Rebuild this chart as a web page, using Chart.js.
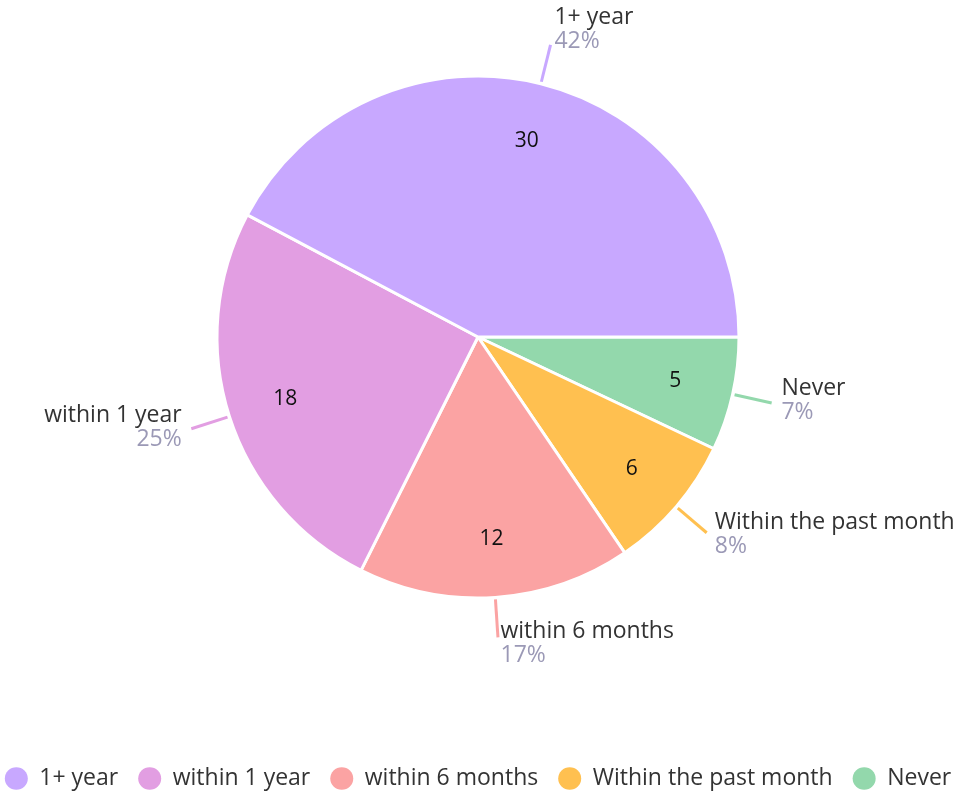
<!DOCTYPE html>
<html>
<head>
<meta charset="utf-8">
<script src="https://cdn.jsdelivr.net/npm/chart.js@4/dist/chart.umd.min.js"></script>
<style>
    html, body { margin: 0; padding: 0; background: #fff; overflow: hidden; }
    .chart-container { position: relative; width: 953px; height: 796px; overflow: hidden; }
    /* canvas un peu plus large pour que la légende tienne sur une ligne */
    #pieChart { position: absolute; left: -30px; top: 0; }
</style>
</head>
<body>
<div class="chart-container"><canvas id="pieChart" width="1013" height="796"></canvas></div>
<script>
// Données (ordre de la légende)
const categories = ['1+ year', 'within 1 year', 'within 6 months', 'Within the past month', 'Never'];
const counts = [30, 18, 12, 6, 5];

const sliceColors = ['#c8a8ff', '#e29ee2', '#fba3a3', '#ffc050', '#93d8ac'];
const fontFamily = '"Open Sans", Lato, sans-serif';

// Le camembert tourne dans le sens antihoraire à partir de 3h,
// donc on inverse l'ordre pour Chart.js (sens horaire)
const order = categories.map((_, i) => categories.length - 1 - i);
const total = counts.reduce((a, b) => a + b, 0);

const sliceLabels = {
    id: 'sliceLabels',
    afterDatasetsDraw(chart) {
        const ctx = chart.ctx;
        const meta = chart.getDatasetMeta(0);
        const ds = chart.data.datasets[0];
        ctx.save();
        meta.data.forEach((arc, i) => {
            const {x, y, startAngle, endAngle, outerRadius} = arc.getProps(['x', 'y', 'startAngle', 'endAngle', 'outerRadius'], true);
            const mid = (startAngle + endAngle) / 2;
            const cos = Math.cos(mid);
            const sin = Math.sin(mid);
            const value = ds.data[i];

            // valeur à l'intérieur
            ctx.font = '21px ' + fontFamily;
            ctx.fillStyle = '#111';
            ctx.textAlign = 'center';
            ctx.textBaseline = 'middle';
            const rIn = outerRadius * 0.775;
            ctx.fillText(String(value), x + cos * rIn, y + sin * rIn);

            // trait de rappel
            const r1 = outerRadius + 2;
            const r2 = outerRadius + 40;
            const ex = x + cos * r2;
            const ey = y + sin * r2;
            ctx.strokeStyle = ds.backgroundColor[i];
            ctx.lineWidth = 3;
            ctx.beginPath();
            ctx.moveTo(x + cos * r1, y + sin * r1);
            ctx.lineTo(ex, ey);
            ctx.stroke();

            // étiquette extérieure
            const dx = 2 + 8 * Math.abs(cos);
            const left = cos >= 0;
            const tx = left ? ex + dx : ex - dx;
            const nameY = ey - 17 + 11 * sin;
            ctx.textAlign = left ? 'left' : 'right';
            ctx.font = '23px ' + fontFamily;
            ctx.fillStyle = '#333';
            ctx.fillText(chart.data.labels[i], tx, nameY);
            ctx.fillStyle = '#9b99b6';
            ctx.fillText(Math.round(value / total * 100) + '%', tx, nameY + 24);
        });
        ctx.restore();
    }
};

new Chart(document.getElementById('pieChart'), {
    type: 'pie',
    data: {
        labels: order.map(i => categories[i]),
        datasets: [{
            data: order.map(i => counts[i]),
            backgroundColor: order.map(i => sliceColors[i]),
            borderColor: '#fff',
            borderWidth: 3
        }]
    },
    options: {
        responsive: false,
        animation: false,
        rotation: 90,
        radius: 261,
        layout: { padding: { left: 3, bottom: -4 } },
        plugins: {
            tooltip: { enabled: false },
            legend: {
                position: 'bottom',
                reverse: true,
                title: { display: true, text: '', padding: { top: 61, bottom: 0 }, font: { size: 10 } },
                labels: {
                    usePointStyle: true,
                    pointStyle: 'circle',
                    boxHeight: 16,
                    pointStyleWidth: 23,
                    padding: 20,
                    color: '#333',
                    font: { family: fontFamily, size: 23 },
                    generateLabels(chart) {
                        const items = Chart.overrides.pie.plugins.legend.labels.generateLabels(chart);
                        return items.map(it => Object.assign(it, { lineWidth: 0, strokeStyle: it.fillStyle }));
                    }
                }
            }
        }
    },
    plugins: [sliceLabels]
});
</script>
</body>
</html>
